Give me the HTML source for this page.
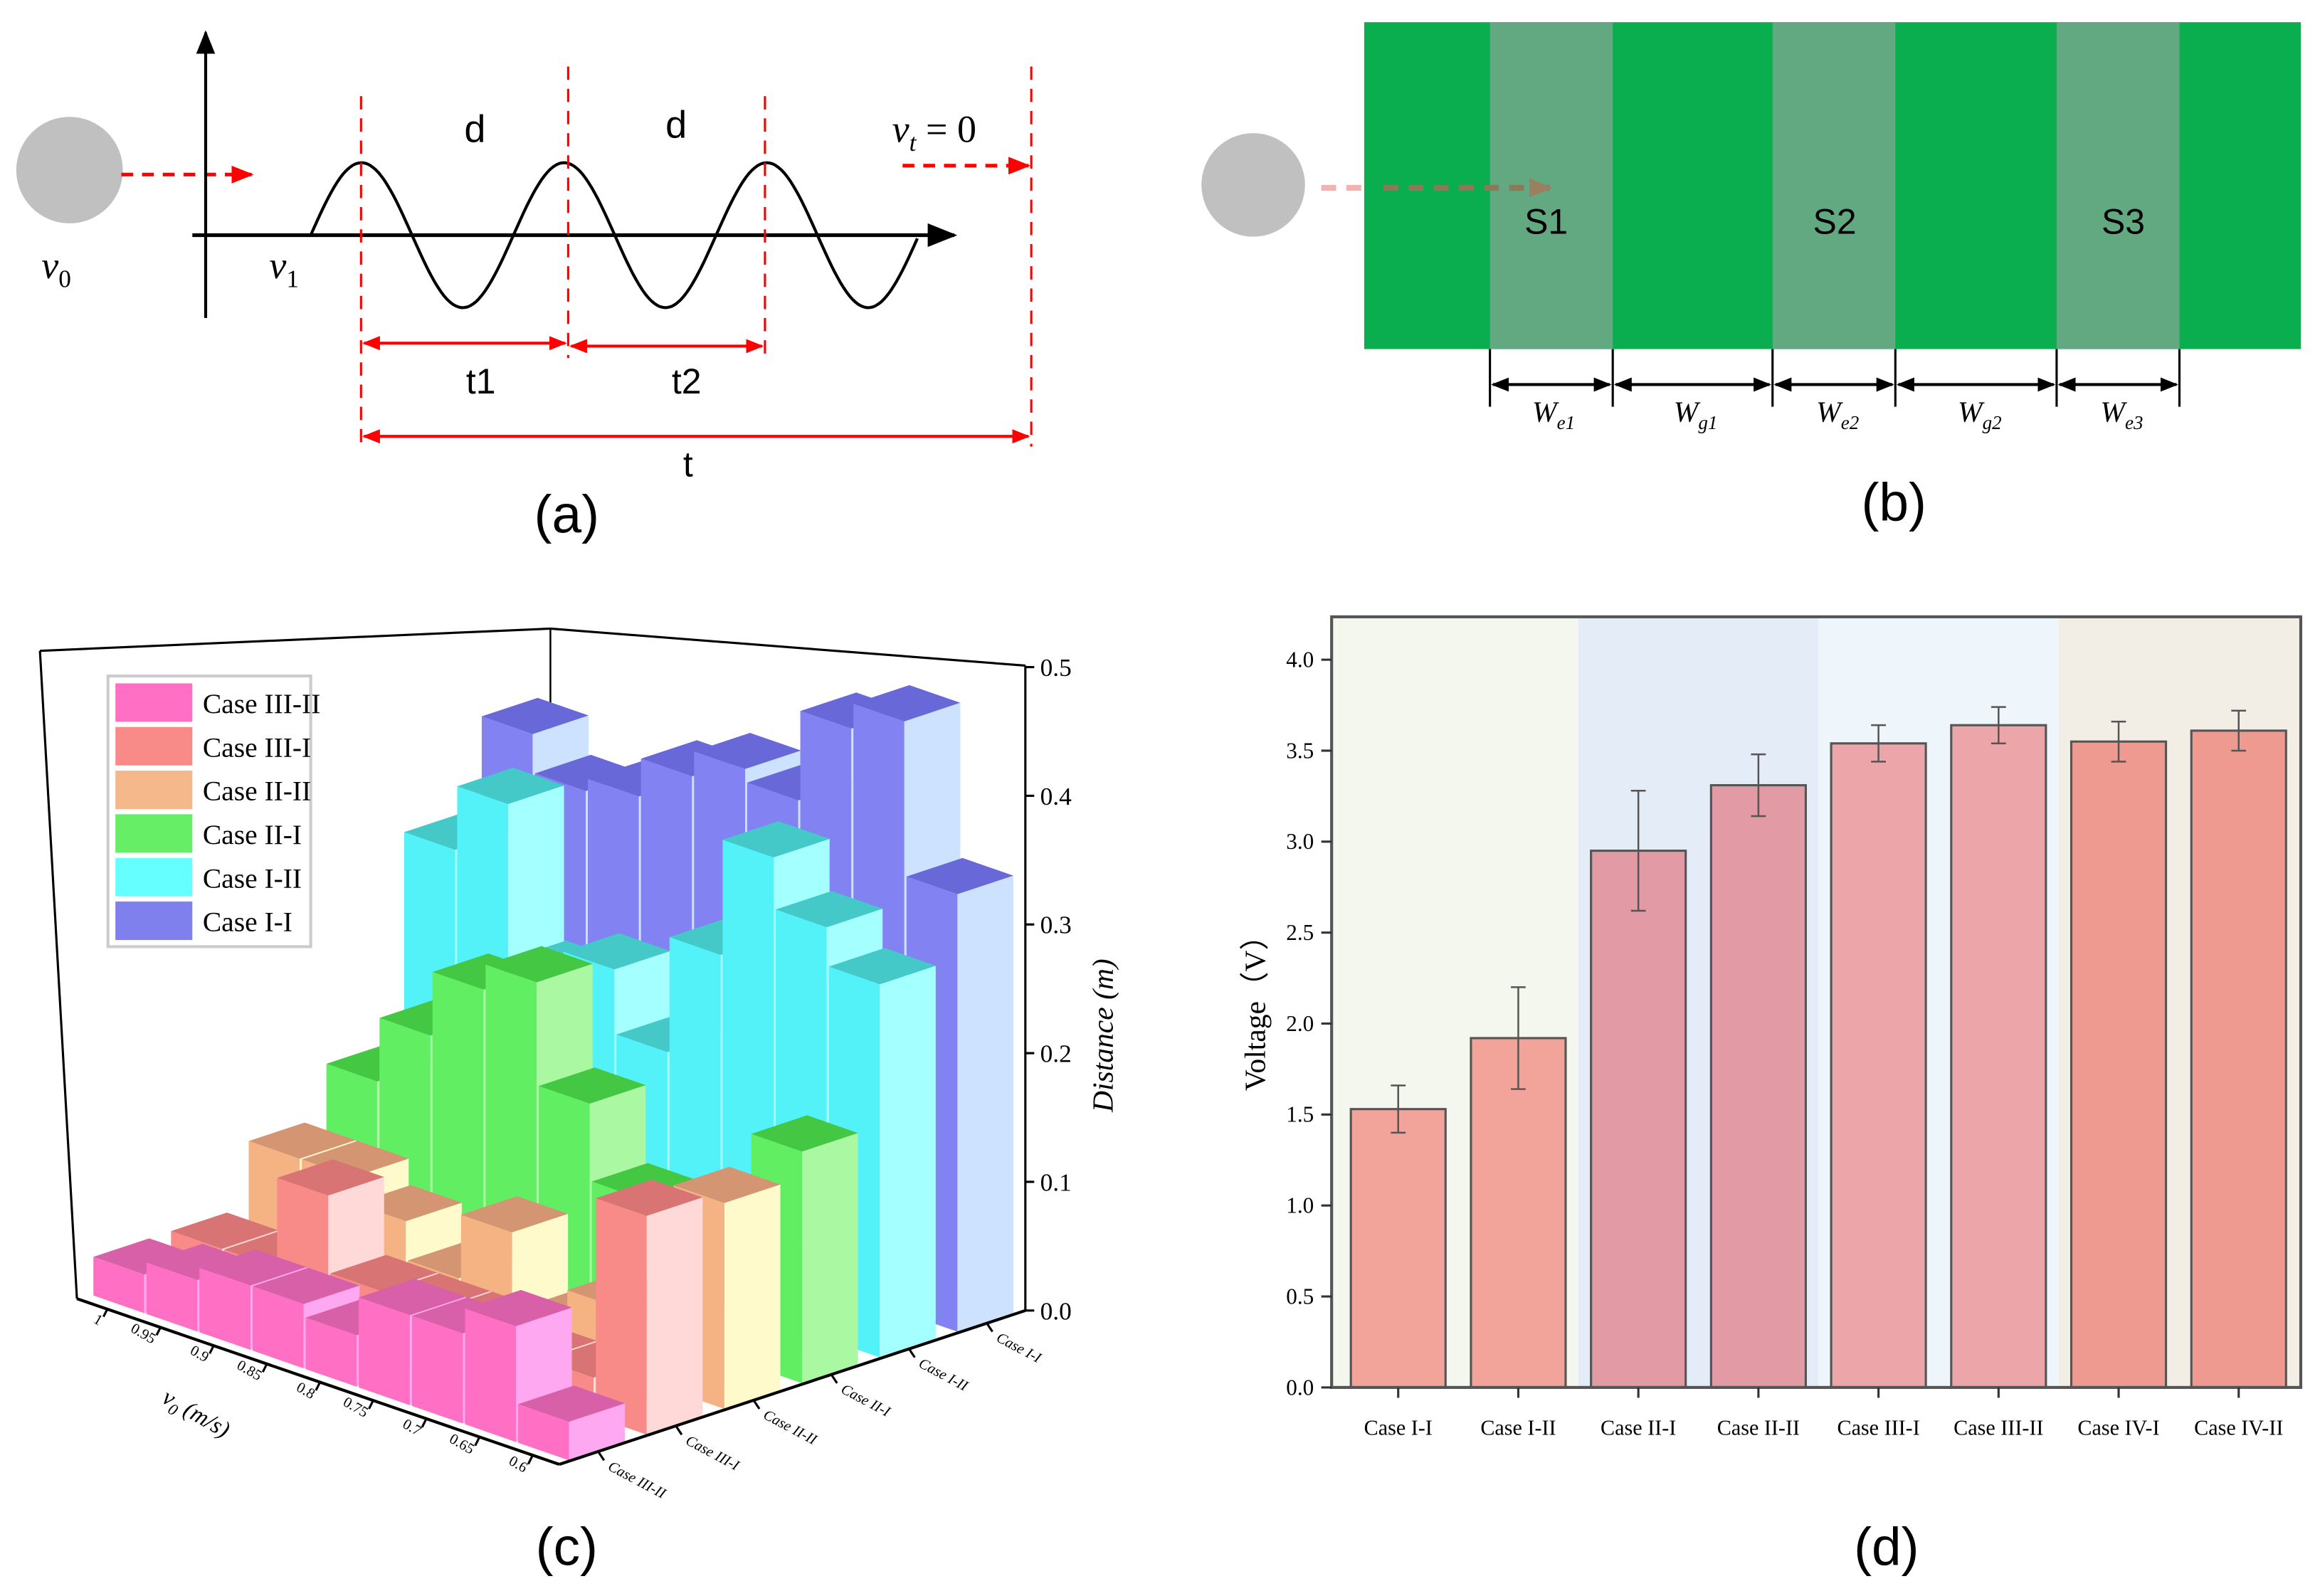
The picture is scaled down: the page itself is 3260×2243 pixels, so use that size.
<!DOCTYPE html>
<html><head><meta charset="utf-8"><style>
html,body{margin:0;padding:0;background:#fff}
svg{display:block}
text{font-family:"Liberation Serif",serif}
.sans{font-family:"Liberation Sans",sans-serif}
</style></head><body>
<svg id="fig" width="3260" height="2243" viewBox="0 0 1568 1079" preserveAspectRatio="none" xmlns="http://www.w3.org/2000/svg">
<defs>
<marker id="ab" viewBox="0 0 10 10" refX="9" refY="5" markerWidth="8" markerHeight="8" orient="auto-start-reverse"><path d="M0,1 L10,5 L0,9 z" fill="#000"/></marker>
<marker id="ar" viewBox="0 0 10 10" refX="9" refY="5" markerWidth="6" markerHeight="6" orient="auto-start-reverse"><path d="M0,1 L10,5 L0,9 z" fill="#f00"/></marker>
<marker id="ak" viewBox="0 0 10 10" refX="9" refY="5" markerWidth="6" markerHeight="6" orient="auto-start-reverse"><path d="M0,1 L10,5 L0,9 z" fill="#000"/></marker>
<marker id="abr" viewBox="0 0 10 10" refX="9" refY="5" markerWidth="4" markerHeight="4" orient="auto"><path d="M0,1 L10,5 L0,9 z" fill="#9a8060"/></marker>
</defs>

<!-- Panel (a) -->
<g>
<circle cx="47" cy="115" r="36" fill="#c0c0c0"/>
<line x1="82" y1="118" x2="170" y2="118" stroke="#f00" stroke-width="2.5" stroke-dasharray="8,6" marker-end="url(#ar)"/>
<line x1="139" y1="215" x2="139" y2="22" stroke="#000" stroke-width="2" marker-end="url(#ab)"/>
<line x1="130" y1="159" x2="645" y2="159" stroke="#000" stroke-width="2.5" marker-end="url(#ab)"/>
<path id="sine" fill="none" stroke="#000" stroke-width="2"/>
<g stroke="#f00" stroke-width="1.5" stroke-dasharray="9,6">
<line x1="244" y1="65" x2="244" y2="302"/><line x1="384" y1="45" x2="384" y2="242"/><line x1="517" y1="65" x2="517" y2="242"/><line x1="697" y1="45" x2="697" y2="302"/>
</g>
<line x1="610" y1="112" x2="695" y2="112" stroke="#f00" stroke-width="2.5" stroke-dasharray="8,6" marker-end="url(#ar)"/>
<line x1="246" y1="232" x2="382" y2="232" stroke="#f00" stroke-width="2" marker-start="url(#ar)" marker-end="url(#ar)"/>
<line x1="386" y1="234" x2="515" y2="234" stroke="#f00" stroke-width="2" marker-start="url(#ar)" marker-end="url(#ar)"/>
<line x1="246" y1="295" x2="695" y2="295" stroke="#f00" stroke-width="2" marker-start="url(#ar)" marker-end="url(#ar)"/>
<text class="sans" x="321" y="96" font-size="26" text-anchor="middle">d</text>
<text class="sans" x="457" y="93" font-size="26" text-anchor="middle">d</text>
<text x="603" y="96" font-size="26" font-style="italic">v<tspan font-size="17" dy="6">t</tspan><tspan dy="-6" font-style="normal"> = 0</tspan></text>
<text x="28" y="188" font-size="26" font-style="italic">v<tspan font-size="17" dy="6" font-style="normal">0</tspan></text>
<text x="182" y="188" font-size="26" font-style="italic">v<tspan font-size="17" dy="6" font-style="normal">1</tspan></text>
<text class="sans" x="325" y="266" font-size="24" text-anchor="middle">t1</text>
<text class="sans" x="464" y="266" font-size="24" text-anchor="middle">t2</text>
<text class="sans" x="465" y="322" font-size="24" text-anchor="middle">t</text>
<text class="sans" x="383" y="360" font-size="36" text-anchor="middle">(a)</text>
</g>

<!-- Panel (b) -->
<g>
<rect x="922" y="15" width="633" height="221" fill="#0aae4e"/>
<rect x="1007" y="15" width="83" height="221" fill="#62a982"/>
<rect x="1198" y="15" width="83" height="221" fill="#62a982"/>
<rect x="1390" y="15" width="83" height="221" fill="#62a982"/>
<circle cx="847" cy="125" r="35" fill="#c0c0c0"/>
<line x1="893" y1="127" x2="920" y2="127" stroke="#f5b0b0" stroke-width="4" stroke-dasharray="10,7"/>
<line x1="935" y1="127" x2="1048" y2="127" stroke="#8a7a55" stroke-width="4" stroke-dasharray="10,7" marker-end="url(#abr)"/>
<text class="sans" x="1045" y="158" font-size="24" text-anchor="middle">S1</text>
<text class="sans" x="1240" y="158" font-size="24" text-anchor="middle">S2</text>
<text class="sans" x="1435" y="158" font-size="24" text-anchor="middle">S3</text>
<g stroke="#000" stroke-width="1.5">
<line x1="1007" y1="236" x2="1007" y2="275"/><line x1="1090" y1="236" x2="1090" y2="275"/><line x1="1198" y1="236" x2="1198" y2="275"/><line x1="1281" y1="236" x2="1281" y2="275"/><line x1="1390" y1="236" x2="1390" y2="275"/><line x1="1473" y1="236" x2="1473" y2="275"/>
</g>
<g stroke="#000" stroke-width="2">
<line x1="1009" y1="260" x2="1088" y2="260" marker-start="url(#ak)" marker-end="url(#ak)"/>
<line x1="1092" y1="260" x2="1196" y2="260" marker-start="url(#ak)" marker-end="url(#ak)"/>
<line x1="1200" y1="260" x2="1279" y2="260" marker-start="url(#ak)" marker-end="url(#ak)"/>
<line x1="1283" y1="260" x2="1388" y2="260" marker-start="url(#ak)" marker-end="url(#ak)"/>
<line x1="1392" y1="260" x2="1471" y2="260" marker-start="url(#ak)" marker-end="url(#ak)"/>
</g>
<g font-size="20" font-style="italic" text-anchor="middle">
<text x="1050" y="285">W<tspan font-size="13" dy="5">e1</tspan></text>
<text x="1146" y="285">W<tspan font-size="13" dy="5">g1</tspan></text>
<text x="1242" y="285">W<tspan font-size="13" dy="5">e2</tspan></text>
<text x="1338" y="285">W<tspan font-size="13" dy="5">g2</tspan></text>
<text x="1434" y="285">W<tspan font-size="13" dy="5">e3</tspan></text>
</g>
<text class="sans" x="1280" y="352" font-size="36" text-anchor="middle">(b)</text>
</g>

<!-- Panel (c) -->
<g id="pc">
<line x1="27" y1="440" x2="372" y2="425" stroke="#000" stroke-width="1.5"/>
<line x1="372" y1="425" x2="693" y2="450" stroke="#000" stroke-width="1.5"/>
<line x1="372" y1="425" x2="372" y2="700" stroke="#000" stroke-width="1.2"/>
<line x1="27" y1="440" x2="52" y2="878" stroke="#000" stroke-width="1.5"/>
<g id="bars3d"></g>
<line x1="693" y1="450" x2="693" y2="886" stroke="#000" stroke-width="1.5"/>
<line x1="52" y1="878" x2="378" y2="990" stroke="#000" stroke-width="2"/>
<line x1="378" y1="990" x2="693" y2="886" stroke="#000" stroke-width="2"/>
<g id="axes3d"></g>
<g>
<rect x="73" y="457" width="137" height="183" fill="#fff" stroke="#ccc" stroke-width="2"/>
<g id="legend3d"></g>
</g>
<text transform="translate(752,700) rotate(-90)" font-size="20" font-style="italic" text-anchor="middle">Distance (m)</text>
<text transform="translate(130,960) rotate(30)" font-size="16" font-style="italic" text-anchor="middle">v<tspan font-size="11" dy="4">0</tspan><tspan dy="-4"> (m/s)</tspan></text>
<text class="sans" x="383" y="1058" font-size="36" text-anchor="middle">(c)</text>
</g>

<!-- Panel (d) -->
<g id="pd">
<g id="bands"></g>
<g id="barsd"></g>
<rect x="900" y="417" width="655" height="521" fill="none" stroke="#555" stroke-width="2"/>
<g id="axisd"></g>
<text transform="translate(855,680) rotate(-90)" font-size="20" text-anchor="middle">Voltage（V）</text>
<text class="sans" x="1275" y="1058" font-size="36" text-anchor="middle">(d)</text>
</g>
</svg>
<script>
// ---------- Panel (d) data ----------
const dCategories = ["Case I-I","Case I-II","Case II-I","Case II-II","Case III-I","Case III-II","Case IV-I","Case IV-II"];
const dValues = [1.53, 1.92, 2.95, 3.31, 3.54, 3.64, 3.55, 3.61];
const dErrors = [0.13, 0.28, 0.33, 0.17, 0.10, 0.10, 0.11, 0.11];
const dTicks = [0.0, 0.5, 1.0, 1.5, 2.0, 2.5, 3.0, 3.5, 4.0];
const dTickLabels = ["0.0","0.5","1.0","1.5","2.0","2.5","3.0","3.5","4.0"];

// ---------- Panel (c) data ----------
const cCases = ["Case III-II","Case III-I","Case II-II","Case II-I","Case I-II","Case I-I"];
const cSpeeds = ["1","0.95","0.9","0.85","0.8","0.75","0.7","0.65","0.6"];
const cCaseIIIII = [0.03,0.04,0.05,0.05,0.04,0.07,0.07,0.09,0.03];
const cCaseIIII = [0.03,0.03,0.10,0.04,0.04,0.04,0.03,0.03,0.17];
const cCaseIIII2 = [0.08,0.08,0.06,0.03,0.08,0.02,0.05,0.05,0.16];
const cCaseIII = [0.12,0.17,0.22,0.24,0.16,0.10,0.04,0.08,0.18];
const cCaseIII2 = [0.28,0.33,0.21,0.23,0.18,0.27,0.36,0.32,0.29];
const cCaseII = [0.35,0.32,0.33,0.36,0.38,0.37,0.44,0.46,0.34];
const cZTicks = [0.0,0.1,0.2,0.3,0.4,0.5];
const cZTickLabels = ["0.0","0.1","0.2","0.3","0.4","0.5"];

const NS = "http://www.w3.org/2000/svg";
function mk(tag, attrs, parent){const e=document.createElementNS(NS,tag);for(const k in attrs)e.setAttribute(k,attrs[k]);parent.appendChild(e);return e;}

// sine wave panel (a)
(function(){let d="";for(let x=210;x<=620;x+=2){const y=159-49*Math.sin((x-210)/137*2*Math.PI);d+=(x===210?"M":"L")+x+","+y.toFixed(1);}document.getElementById("sine").setAttribute("d",d);})();

// ---------- Panel (d) ----------
const dy0=938, dyScale=123, dx0=945, dxStep=81.15, dBarW=64;
function dY(v){return dy0 - v*dyScale;}
function dX(i){return dx0 + i*dxStep;}
const bandColors=["#f3f7ee","#e4ecf7","#eef5fb","#f2eee6"];
const barColors=["#f2a49a","#f2a49a","#e29aa4","#e29aa4","#eca6aa","#eca6aa","#ef9a90","#ef9a90"];
const bandsG=document.getElementById("bands");
for(let b=0;b<4;b++){
  const x1=b===0?900:(dX(2*b-1)+dX(2*b))/2, x2=b===3?1555:(dX(2*b+1)+dX(2*b+2))/2;
  const r=mk("rect",{x:x1,y:417,width:x2-x1,height:521,fill:bandColors[b]},bandsG);
  
  
}
const barsD=document.getElementById("barsd");
dValues.forEach((v,i)=>{
  const r=mk("rect",{x:dX(i)-dBarW/2,y:dY(v),width:dBarW,height:dY(0)-dY(v),fill:barColors[i],stroke:"#555","stroke-width":1.5},barsD);
  
  
  const e=dErrors[i];
  const g=mk("g",{stroke:"#555","stroke-width":1.2},barsD);
  
  
  mk("line",{x1:dX(i),x2:dX(i),y1:dY(v+e),y2:dY(v-e)},g);
  mk("line",{x1:dX(i)-5,x2:dX(i)+5,y1:dY(v+e),y2:dY(v+e)},g);
  mk("line",{x1:dX(i)-5,x2:dX(i)+5,y1:dY(v-e),y2:dY(v-e)},g);
});
const axD=document.getElementById("axisd");
dTicks.forEach((t,k)=>{
  mk("line",{x1:893,x2:900,y1:dY(t),y2:dY(t),stroke:"#333","stroke-width":1.5},axD);
  const tx=mk("text",{x:888,y:dY(t)+5,"font-size":15,"text-anchor":"end"},axD);
  tx.textContent=dTickLabels[k];
  
  
});
dCategories.forEach((c,i)=>{
  mk("line",{x1:dX(i),x2:dX(i),y1:938,y2:945,stroke:"#333","stroke-width":1.5},axD);
  const tx=mk("text",{x:dX(i),y:970,"font-size":14.5,"text-anchor":"middle"},axD);
  tx.textContent=c;
  
  
});

// ---------- Panel (c) ----------
const cRows=[cCaseIIIII,cCaseIIII,cCaseIIII2,cCaseIII,cCaseIII2,cCaseII];
const A=[55,878], uV=[323/9,112/9], wV=[52.5,-17.4], zScale=870;
function floorPt(i,j){return [A[0]+i*uV[0]+j*wV[0], A[1]+i*uV[1]+j*wV[1]];}
function zPix(z){return z*zScale;}
const pal=[
 {f:"#ff70c4",s:"#ffa8f2",t:"#d860a8",l:"#ff70c4"},
 {f:"#f88a88",s:"#ffd8d8",t:"#d87474",l:"#f88a88"},
 {f:"#f5b282",s:"#fffacc",t:"#d49572",l:"#f5b88a"},
 {f:"#62ee62",s:"#aaf8a2",t:"#44c844",l:"#66ee66"},
 {f:"#52f2f8",s:"#a4ffff",t:"#44c8c8",l:"#66ffff"},
 {f:"#8282f2",s:"#cce2ff",t:"#6868d8",l:"#7f7fee"}];
const bars3d=document.getElementById("bars3d");
const hu=0.48, hw=0.36;
for(let j=cRows.length-1;j>=0;j--){
  for(let i=0;i<cRows[j].length;i++){
    const h=zPix(cRows[j][i]);
    const c=floorPt(i+0.5,j+0.5);
    const P=(a,b,z)=>[c[0]+a*uV[0]+b*wV[0], c[1]+a*uV[1]+b*wV[1]-z];
    const pts=a=>a.map(p=>p[0].toFixed(1)+","+p[1].toFixed(1)).join(" ");
    const g=mk("g",{},bars3d);
    
    
    mk("polygon",{points:pts([P(-hu,-hw,0),P(hu,-hw,0),P(hu,-hw,h),P(-hu,-hw,h)]),fill:pal[j].f},g);
    mk("polygon",{points:pts([P(hu,-hw,0),P(hu,hw,0),P(hu,hw,h),P(hu,-hw,h)]),fill:pal[j].s},g);
    mk("polygon",{points:pts([P(-hu,-hw,h),P(hu,-hw,h),P(hu,hw,h),P(-hu,hw,h)]),fill:pal[j].t},g);
  }
}
const ax3=document.getElementById("axes3d");
cZTicks.forEach((t,k)=>{
  const y=886-zPix(t);
  mk("line",{x1:693,x2:699,y1:y,y2:y,stroke:"#000","stroke-width":1.5},ax3);
  const tx=mk("text",{x:703,y:y+6,"font-size":17},ax3);
  tx.textContent=cZTickLabels[k];
  
  
});
cSpeeds.forEach((s,i)=>{
  const p=floorPt(i+0.5,0);
  mk("line",{x1:p[0],y1:p[1],x2:p[0]-3,y2:p[1]+6,stroke:"#000","stroke-width":1.5},ax3);
  const tx=mk("text",{transform:`translate(${p[0]-6},${p[1]+12}) rotate(30)`,"font-size":10,"text-anchor":"end"},ax3);
  tx.textContent=s;
  
  
});
cCases.forEach((c,j)=>{
  const p=[378+(j+0.5)*wV[0], 990+(j+0.5)*wV[1]];
  mk("line",{x1:p[0],y1:p[1],x2:p[0]+4,y2:p[1]+6,stroke:"#000","stroke-width":1.5},ax3);
  const tx=mk("text",{transform:`translate(${p[0]+6},${p[1]+12}) rotate(28)`,"font-size":10,"font-style":"italic"},ax3);
  tx.textContent=c;
  
  
});
const lg=document.getElementById("legend3d");
cCases.forEach((c,j)=>{
  const y=462+j*29.5;
  const r=mk("rect",{x:78,y:y,width:52,height:26,fill:pal[j].l},lg);
  
  
  const tx=mk("text",{x:137,y:y+20,"font-size":19},lg);
  tx.textContent=c;
  
  
});
</script>
</body></html>
